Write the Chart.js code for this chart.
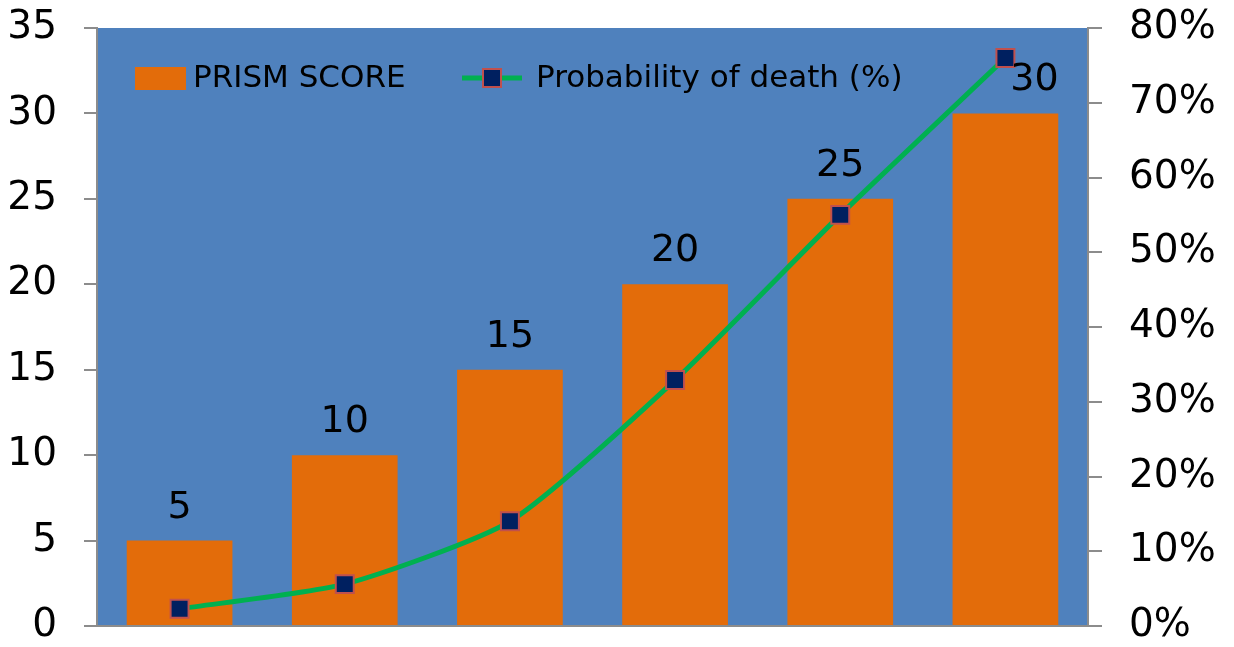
<!DOCTYPE html>
<html>
<head>
<meta charset="utf-8">
<script src="https://cdn.jsdelivr.net/npm/chart.js@4"></script>
<style>
  html, body { margin: 0; padding: 0; background: #fff; }
  #wrap { width: 1234px; height: 647px; }
</style>
</head>
<body>
<div id="wrap"><canvas id="chart" width="1234" height="647"></canvas></div>
<script>
// data
const categories = ['1', '2', '3', '4', '5', '6']
const prismScore = [5, 10, 15, 20, 25, 30]
const deathProb = [0.023, 0.056, 0.14, 0.329, 0.55, 0.76]
const leftTicks = [0, 5, 10, 15, 20, 25, 30, 35]
const rightTicks = [0, 0.1, 0.2, 0.3, 0.4, 0.5, 0.6, 0.7, 0.8]

const FONT = '"DejaVu Sans", sans-serif'
const AXIS_GREY = '#8c8c8c'

const plotBg = {
    id: 'plotBg',
    beforeDraw(chart) {
        const { ctx, chartArea: a } = chart
        ctx.save()
        ctx.fillStyle = '#4F81BD'
        ctx.fillRect(a.left, a.top, a.right - a.left, a.bottom - a.top)
        ctx.restore()
    }
}

const barLabels = {
    id: 'barLabels',
    afterDatasetsDraw(chart) {
        const { ctx } = chart
        const meta = chart.getDatasetMeta(1) // bars
        ctx.save()
        ctx.font = '38px ' + FONT
        ctx.fillStyle = '#000'
        ctx.textAlign = 'center'
        ctx.textBaseline = 'alphabetic'
        meta.data.forEach((bar, i) => {
            // last label got pushed right in the original (marker overlap)
            const nudge = i === meta.data.length - 1 ? 29 : 0
            ctx.fillText(String(prismScore[i]), bar.x + nudge, bar.y - 23)
        })
        ctx.restore()
    }
}

const innerLegend = {
    id: 'innerLegend',
    afterDraw(chart) {
        const { ctx } = chart
        const cy = 78
        ctx.save()
        ctx.fillStyle = '#E36C0A'
        ctx.fillRect(135, 67, 51, 23)
        ctx.font = '31px ' + FONT
        ctx.fillStyle = '#000'
        ctx.textBaseline = 'middle'
        ctx.textAlign = 'left'
        ctx.fillText('PRISM SCORE', 193, cy + 1)

        ctx.strokeStyle = '#00B050'
        ctx.lineWidth = 5
        ctx.beginPath()
        ctx.moveTo(462, cy)
        ctx.lineTo(522, cy)
        ctx.stroke()
        ctx.fillStyle = '#002060'
        ctx.fillRect(483, cy - 9, 18, 18)
        ctx.strokeStyle = '#C0504D'
        ctx.lineWidth = 2
        ctx.strokeRect(483, cy - 9, 18, 18)

        ctx.fillStyle = '#000'
        ctx.fillText('Probability of death (%)', 536, cy + 1)
        ctx.restore()
    }
}

// no extra room for half tick labels, chart area should hug the padding
const noPad = (s) => { s.paddingTop = 0; s.paddingBottom = 0 }

new Chart(document.getElementById('chart'), {
    data: {
        labels: categories,
        datasets: [
            {
                type: 'line',
                label: 'Probability of death (%)',
                data: deathProb,
                yAxisID: 'y1',
                borderColor: '#00B050',
                borderWidth: 5,
                tension: 0.2,
                pointStyle: 'rect',
                pointRadius: 12.7,
                pointBackgroundColor: '#002060',
                pointBorderColor: '#C0504D',
                pointBorderWidth: 2,
                order: 0
            },
            {
                type: 'bar',
                label: 'PRISM SCORE',
                data: prismScore,
                yAxisID: 'y',
                backgroundColor: '#E36C0A',
                barPercentage: 0.64,
                categoryPercentage: 1,
                order: 1
            }
        ]
    },
    options: {
        responsive: false,
        animation: false,
        layout: { padding: { top: 28, left: 0, right: 0, bottom: 0 } },
        plugins: {
            legend: { display: false },
            tooltip: { enabled: false }
        },
        scales: {
            x: {
                grid: { display: false },
                border: { display: true, color: AXIS_GREY, width: 2 },
                ticks: { display: false },
                afterFit: (s) => { s.height = 21; s.paddingLeft = 0; s.paddingRight = 0 }
            },
            y: {
                position: 'left',
                min: 0,
                max: 35,
                afterBuildTicks: (s) => { s.ticks = leftTicks.map(v => ({ value: v })) },
                grid: { drawOnChartArea: false, tickLength: 13, color: AXIS_GREY, lineWidth: 2 },
                border: { display: true, color: AXIS_GREY, width: 2 },
                ticks: { color: '#000', font: { family: FONT, size: 39 }, padding: 27 },
                afterFit: (s) => { s.width = 97; noPad(s) }
            },
            y1: {
                position: 'right',
                min: 0,
                max: 0.8,
                afterBuildTicks: (s) => { s.ticks = rightTicks.map(v => ({ value: v })) },
                grid: { drawOnChartArea: false, tickLength: 14, color: AXIS_GREY, lineWidth: 2 },
                border: { display: true, color: AXIS_GREY, width: 2 },
                ticks: {
                    color: '#000',
                    font: { family: FONT, size: 39 },
                    padding: 27,
                    callback: (v) => Math.round(v * 100) + '%'
                },
                afterFit: (s) => { s.width = 146; noPad(s) }
            }
        }
    },
    plugins: [plotBg, barLabels, innerLegend]
})
</script>
</body>
</html>
